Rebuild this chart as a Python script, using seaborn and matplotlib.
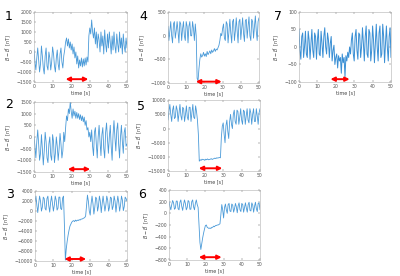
import seaborn as sns
import matplotlib.pyplot as plt
import numpy as np

# --- data (one sample every 0.5 s, 0..50 s) ---
p1 = [100, -500, -900, -300, 200, -400, -1000, -600, 300, -200, -800, -1100, -200, 200, -700, -900,
      0, -300, -900, -500, 250, -100, -700, -1000, -300, 100, -600, -900, -100, 200, -500, -800, -200, 100,
      500, 700, 300, 650, 200, 500, 100, 400, -100, 250, -300, 0, -600, -200, -800, -400, -700, -300,
      -750, -350, -700, -300, -650, -250, -500, 800, 1200, 900, 1600, 1000, 700, 1200, 400, 1000, 200, 900,
      600, 0, 1000, 300, 800, -100, 1100, 400, 0, 900, 200, 1000, 500, -100, 800, 100, 1000, 300, -50, 900,
      400, 0, 1000, 200, 700, -100, 900, 300, 0, 700, 200]
p2 = [0, -400, -900, -200, 300, -300, -1000, -700, 100, -500, -1200, -600, 200, -200, -900, -1100,
      -300, 0, -800, -1000, 100, -200, -1100, -700, 0, -400, -1000, -500, 150, -300, -900, -600, 200, -200,
      400, 900, 700, 1200, 1000, 1500, 1100, 800, 1200, 900, 1100, 800, 1050, 800, 1000, 750, 950, 700,
      900, 650, 850, 500, 700, 300, 400, 0, 200, -200, 300, -400, -800, 200, 400, -300, -900, 0,
      500, -200, -800, 100, 400, -500, -900, 200, 600, -100, -700, 0, 500, -400, -1000, 100, 700, 0, -600, 300,
      600, -300, -900, 0, 500, -200, -700, 200, 400, -400, -300]
p3 = [2000, 3000, 1200, -300, 1500, 3000, 2000, 0, 800, 2800, 2500, 500, 200, 2500, 3000, 1000,
      -200, 1800, 3000, 1500, 0, 1200, 3000, 2200, 200, 600, 2800, 2800, 500, 300, 2600, 3000,
      -3000, -9800, -7500, -6000, -4800, -3800, -3000, -2600, -2200, -2000, -1900, -2100, -1800, -2000,
      -1800, -1900, -1700, -1800, -1600, -1600, -1500, -1400, -1300, -1000, 1000, 3200,
      2000, 0, -800, 1500, 3000, 1500, -600, 800, 2800, 2500, 0, 1000, 3000, 2000, -300, 1500, 3000, 1500,
      0, 1200, 3000, 2200, 0, 800, 2800, 2600, 300, 1000, 3000, 2000, -200, 1500, 3000, 1800, 0, 1200,
      3000, 2200, 100, 900, 2800, 2500, 2000]
p4 = [200, -100, 100, 300, 0, -150, 250, 300, -50, 100, 300, 100, -150, 300, 250, -100,
      150, 300, 0, -100, 300, 200, -150, 200, 300, 0, 0, 300, 150, -100, 250,
      0, -900, -950, -700, -500, -380, -450, -420, -350, -430, -380, -440, -330, -400, -360, -320, -380,
      -300, -350, -320, -270, -330, -280, -300, -250, -200, -100, 50, 0, 150, 250, -50, -100, 300, 250,
      -150, 100, 350, 50, -150, 300, 350, -100, 100, 380, 100, -150, 300, 350, -80, 150, 380, 50, -120,
      320, 350, -50, 200, 400, 0, -100, 350, 300, -50, 200, 420, 100, -100, 300, 380]
p5 = [3000, 6000, 8500, 5000, 2500, 6500, 8000, 3500, 4000, 8000, 6500, 2500, 5500, 8500, 4500, 3000,
      7500, 7000, 2500, 5000, 8000, 4000, 3000, 7500, 7500, 2500, 5500, 8500, 4000, 3500, 8000, 6000, 3000,
      -2000, -11500, -11000, -11200, -10800, -11000, -10900, -11200, -10800, -11000, -10700, -11000,
      -10900, -10800, -10600, -10900, -10700, -10600, -10400, -10600, -10300, -10400, -10300, -10200,
      -10300, -3000, 800, 2000, -2000, -5000, 1000, 3000, -1000, -3500, 2500, 5000, 1500, 0, 5000, 6500,
      2500, 1500, 6500, 6000, 1500, 4000, 7000, 3000, 1500, 6500, 6000, 1500, 4500, 7000, 3000, 2000,
      7000, 5500, 1500, 5000, 7000, 2500, 2500, 7000, 4500, 1500, 5500, 7000]
p6 = [200, 120, 60, 150, 220, 180, 70, 90, 210, 210, 80, 60, 190, 230, 120, 50,
      150, 230, 170, 60, 100, 220, 200, 70, 70, 200, 230, 110, 60, 170, 230, 150,
      100, -200, -500, -620, -520, -420, -340, -270, -210, -200, -240, -250, -260, -250, -260, -240,
      -240, -220, -230, -210, -210, -200, -200, -190, -180,
      -20, 150, 60, -80, 100, 160, 60, 0, 150, 170, 40, 30, 160, 140, 20, 80, 170, 110, 10, 130,
      180, 60, 30, 170, 150, 20, 100, 180, 90, 20, 150, 190, 50, 40, 180, 140, 20, 120, 190, 80,
      30, 170, 180, 60]
p7 = [50, -10, -35, 30, 40, -30, 0, 45, -20, -30, 45, 20, -35, 10, 50, -10,
      -30, 40, 30, -35, 20, 50, -20, -25, 45, 10, -30, 30, 55, 0,
      -20, 40, 20, -30, 10, 30, -40, -10, 5, -50, -30, -20, -60, -25, -40, -30, -75, -20, -45, -30,
      -85, -25, -40, -15, -30, 0, -20, 20, 40, -20, -40, 30, 50, -10, -35, 40, 35, -30, 0, 55,
      10, -40, 30, 60, -20, -30, 50, 40, -40, -10, 60, 20, -45, 10, 65, 0, -40, 40, 60, -30,
      -20, 65, 30, -45, 10, 60, 0, -40, 30, 55, -30]

labels = ['1', '2', '3', '4', '5', '6', '7']
series = [p1, p2, p3, p4, p5, p6, p7]
ylims = [(-1500, 2000), (-1500, 1500), (-10000, 4000), (-1000, 500),
         (-15000, 10000), (-800, 400), (-100, 100)]
ysteps = [500, 500, 2000, 500, 5000, 200, 50]
stim = [(17.0, 29.2), (18.2, 30.2), (16.0, 27.8), (15.3, 29.5),
        (16.7, 29.5), (16.4, 28.9), (17.1, 27.5)]

# axes boxes in figure fraction [left, bottom, width, height]
boxes = [[0.085, 0.703, 0.2325, 0.2536], [0.085, 0.377, 0.2325, 0.2536],
         [0.0875, 0.054, 0.23, 0.2536], [0.42, 0.699, 0.2275, 0.257],
         [0.42, 0.380, 0.23, 0.257], [0.4225, 0.058, 0.2275, 0.2536],
         [0.7475, 0.703, 0.23, 0.2536]]
num_pos = [(9, 17), (9, 105), (10, 194), (143, 17), (141, 107), (142, 195), (278, 17)]
arrow_y = [0.04, 0.04, 0.03, 0.02, 0.04, 0.04, 0.04]

sns.set_theme(style="white")
plt.rcParams['font.family'] = ['DejaVu Sans']

fig = plt.figure(figsize=(4, 2.76), dpi=100)
fig.patch.set_facecolor('white')

for i in range(7):
    ax = fig.add_axes(boxes[i])
    vals = series[i]
    t = np.linspace(0, 50, len(vals))
    lw = 0.7 if i == 6 else 0.6
    col = '#3a8fd4' if i == 6 else '#4a9ad8'
    sns.lineplot(x=t, y=vals, ax=ax, color=col, linewidth=lw)
    ax.set_xlim(0, 50)
    ax.set_ylim(*ylims[i])
    ax.set_xticks(np.arange(0, 51, 10))
    ax.set_yticks(np.arange(ylims[i][0], ylims[i][1] + 1, ysteps[i]))
    ax.tick_params(labelsize=3.3, colors='#555555', length=1.2, width=0.3,
                   direction='in', pad=1.5, top=True, right=True,
                   bottom=True, left=True)
    for s in ax.spines.values():
        s.set_color('#b0b0b0')
        s.set_linewidth(0.4)
    ax.set_xlabel('time [s]', fontsize=3.5, color='#444444', labelpad=1)
    ax.set_ylabel(r'$B - \bar{B}$  [nT]', fontsize=3.5, color='#444444', labelpad=2)
    a, b = stim[i]
    ax.annotate('', xy=(b, arrow_y[i]), xytext=(a, arrow_y[i]),
                xycoords=('data', 'axes fraction'),
                arrowprops=dict(arrowstyle='<|-|>', color='red', lw=1.4,
                                mutation_scale=6, shrinkA=0, shrinkB=0))
    px, py = num_pos[i]
    fig.text(px / 400, 1 - py / 276, labels[i], fontsize=9, ha='center',
             va='center', color='black')

fig.savefig('out.png', dpi=100, facecolor='white')
